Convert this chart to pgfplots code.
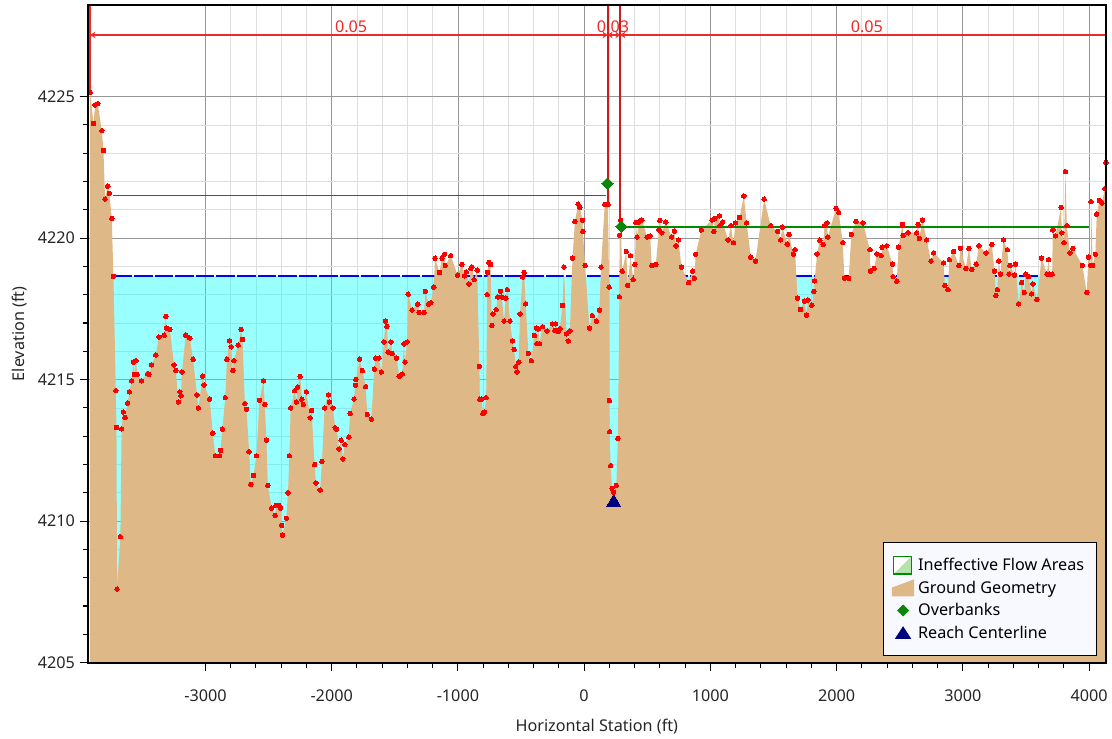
\documentclass[border=0pt]{standalone}
\usepackage{pgfplots}
\pgfplotsset{compat=1.18}
\usepackage{pgfplotstable}
\usepackage{fontspec}
\setmainfont{Noto Sans}
\usetikzlibrary{arrows.meta}
\definecolor{groundc}{RGB}{222,184,135}
\definecolor{waterc}{RGB}{0,255,255}
\definecolor{wlinec}{RGB}{0,0,255}
\definecolor{redc}{RGB}{240,40,40}
\definecolor{bankc}{RGB}{200,30,30}
\definecolor{ovgreen}{RGB}{10,135,10}
\definecolor{ineffc}{RGB}{0,140,0}
\definecolor{navyc}{RGB}{0,0,128}
\definecolor{legbg}{RGB}{248,249,255}
\definecolor{lightgreen}{RGB}{180,228,170}
\newcommand\chartfont{\fontsize{12.2}{14.5}\selectfont}

\pgfplotstableread{
x y
-3913 4225.15
-3887 4224.05
-3874 4224.71
-3853 4224.75
-3821 4223.80
-3808 4223.10
-3795 4221.38
-3774 4221.84
-3761 4221.58
-3742 4220.70
-3729 4218.65
-3710 4214.61
-3705 4213.31
-3700 4207.60
-3674 4209.45
-3664 4213.26
-3651 4213.86
-3637 4213.66
-3616 4214.17
-3603 4214.57
-3584 4214.96
-3571 4215.62
-3563 4215.18
-3550 4215.67
-3540 4215.18
-3506 4214.96
-3458 4215.21
-3448 4215.18
-3427 4215.52
-3393 4215.87
-3369 4216.51
-3327 4216.57
-3314 4217.23
-3308 4216.82
-3282 4216.77
-3248 4215.52
-3235 4215.32
-3214 4214.21
-3203 4214.57
-3194 4214.43
-3186 4215.27
-3156 4216.57
-3124 4216.47
-3098 4215.72
-3067 4214.46
-3056 4214.00
-3022 4215.12
-3011 4214.81
-2966 4214.31
-2942 4213.11
-2922 4212.31
-2888 4212.31
-2880 4212.50
-2866 4213.25
-2843 4214.36
-2830 4215.72
-2809 4216.37
-2796 4216.16
-2783 4215.32
-2775 4215.67
-2741 4216.22
-2717 4216.77
-2706 4216.42
-2688 4214.15
-2675 4213.95
-2654 4212.45
-2641 4211.30
-2619 4211.61
-2596 4212.31
-2572 4214.27
-2540 4214.96
-2530 4214.12
-2517 4212.86
-2506 4211.26
-2475 4210.46
-2448 4210.20
-2440 4210.55
-2419 4210.55
-2404 4210.46
-2396 4209.85
-2390 4209.50
-2359 4210.10
-2346 4211.00
-2335 4212.31
-2325 4214.00
-2293 4214.61
-2280 4214.21
-2269 4214.73
-2249 4215.11
-2236 4214.31
-2225 4214.12
-2201 4214.57
-2170 4213.65
-2159 4213.91
-2135 4212.00
-2125 4211.35
-2091 4211.10
-2077 4212.11
-2056 4214.00
-2025 4214.46
-2018 4214.21
-1991 4214.00
-1972 4213.30
-1962 4213.25
-1941 4212.55
-1925 4212.86
-1912 4212.20
-1896 4212.70
-1864 4212.97
-1854 4213.81
-1823 4214.31
-1812 4214.80
-1808 4215.01
-1778 4215.72
-1757 4215.32
-1731 4214.75
-1718 4213.77
-1686 4213.60
-1662 4215.37
-1651 4215.76
-1625 4215.76
-1607 4215.27
-1586 4216.33
-1573 4217.07
-1562 4216.88
-1552 4215.97
-1531 4216.33
-1520 4215.93
-1486 4215.76
-1465 4215.12
-1441 4215.20
-1428 4216.26
-1420 4215.62
-1402 4216.33
-1394 4218.02
-1363 4217.46
-1318 4217.67
-1307 4217.38
-1268 4217.38
-1258 4218.12
-1231 4217.67
-1215 4217.72
-1191 4218.27
-1181 4219.29
-1146 4218.79
-1126 4219.29
-1105 4219.43
-1100 4219.03
-1057 4219.38
-1002 4218.69
-968 4219.07
-947 4218.67
-933 4218.81
-913 4218.38
-897 4218.93
-889 4218.98
-871 4218.53
-847 4218.87
-830 4215.47
-826 4214.31
-812 4214.31
-802 4213.80
-789 4213.85
-776 4214.36
-768 4218.00
-765 4218.79
-755 4219.14
-742 4219.07
-731 4216.91
-723 4217.32
-697 4217.47
-684 4217.92
-663 4218.12
-653 4217.92
-634 4217.07
-621 4217.88
-608 4218.18
-587 4217.07
-568 4216.37
-555 4216.07
-542 4215.46
-531 4215.27
-518 4215.62
-508 4217.32
-487 4218.63
-476 4218.79
-463 4217.68
-442 4215.93
-418 4215.67
-394 4216.56
-379 4216.82
-373 4216.27
-363 4216.79
-353 4216.27
-329 4216.87
-294 4216.72
-252 4216.97
-231 4216.74
-226 4216.97
-205 4216.70
-192 4216.80
-171 4217.62
-160 4218.98
-140 4216.62
-126 4216.37
-113 4216.72
-92 4219.29
-73 4220.59
-47 4221.20
-34 4221.09
-13 4220.63
-10 4220.24
8 4219.03
42 4216.82
65 4217.26
97 4217.07
121 4217.46
134 4218.98
163 4221.19
189 4221.19
198 4218.27
200 4214.26
202 4213.16
210 4211.96
221 4211.16
233 4211.02
255 4211.26
268 4212.92
279 4217.93
281 4220.10
289 4220.64
302 4218.83
334 4219.53
345 4218.33
368 4219.38
389 4218.53
402 4219.07
410 4220.55
420 4220.04
430 4220.57
442 4220.61
458 4220.64
499 4220.04
523 4220.08
536 4219.03
568 4219.07
592 4220.29
600 4220.63
615 4220.19
647 4220.57
694 4220.04
715 4220.25
728 4219.73
747 4219.94
771 4218.98
828 4218.43
860 4218.83
873 4218.58
884 4219.43
929 4220.29
1015 4220.64
1028 4220.24
1036 4220.70
1073 4220.79
1075 4220.44
1097 4220.57
1141 4219.94
1162 4220.44
1183 4219.84
1199 4220.54
1231 4220.73
1265 4221.49
1288 4220.54
1320 4219.33
1357 4219.19
1426 4221.38
1478 4220.44
1533 4220.24
1557 4219.94
1570 4220.39
1609 4219.79
1623 4220.13
1657 4219.43
1670 4219.59
1691 4217.88
1714 4217.48
1746 4217.77
1762 4217.28
1773 4217.82
1804 4217.63
1820 4218.12
1825 4218.49
1846 4219.44
1867 4219.93
1894 4219.78
1904 4220.44
1925 4220.54
1930 4220.04
1996 4221.05
2017 4220.90
2049 4219.84
2062 4218.58
2096 4218.58
2117 4220.13
2154 4220.59
2209 4220.54
2264 4219.59
2268 4218.83
2298 4218.93
2320 4219.44
2354 4219.38
2360 4219.68
2398 4219.73
2443 4219.08
2448 4218.64
2477 4218.48
2491 4219.68
2522 4220.48
2528 4220.10
2567 4220.19
2635 4220.19
2646 4220.49
2656 4219.99
2680 4220.64
2714 4219.94
2748 4219.19
2769 4219.48
2848 4219.13
2858 4218.33
2882 4218.18
2893 4219.24
2927 4219.53
2969 4219.04
2982 4219.64
3024 4218.93
3048 4219.64
3071 4218.89
3106 4219.08
3127 4219.73
3185 4219.48
3230 4219.78
3251 4218.84
3262 4217.97
3274 4218.18
3285 4219.19
3298 4218.73
3322 4219.94
3353 4219.59
3366 4218.73
3374 4219.03
3410 4218.69
3418 4219.08
3442 4217.68
3466 4218.43
3487 4218.08
3498 4218.73
3521 4218.64
3545 4218.03
3556 4218.38
3587 4217.83
3624 4219.29
3666 4218.73
3679 4219.24
3687 4218.73
3708 4218.73
3713 4220.29
3734 4220.08
3779 4221.09
3784 4220.19
3802 4219.84
3813 4222.35
3824 4220.44
3848 4219.48
3871 4219.64
3947 4219.04
3982 4218.08
3995 4219.33
4013 4219.04
4016 4221.29
4029 4219.04
4050 4219.43
4061 4220.85
4082 4221.33
4103 4221.24
4124 4221.75
4134 4222.67
}\groundtab

\pgfplotstableread{
x y
-3729 4221.51
174 4221.51
nan nan
292 4220.39
4000 4220.39
}\ineffectivetab

\pgfplotstableread{
x y
184 4221.93
295 4220.41
}\overbanktab

\pgfplotstableread{
x y
234 4210.67
}\reachtab

\begin{document}
\begin{tikzpicture}
\begin{axis}[
  name=main,
  at={(0,0)}, anchor=south west,
  scale only axis, width=766.5pt, height=495pt,
  xmin=-3933, xmax=4134, ymin=4205, ymax=4228.24,
  xtick={-3000,-2000,-1000,0,1000,2000,3000,4000},
  xticklabels={-3000,-2000,-1000,0,1000,2000,3000,4000},
  ytick={4205,4210,4215,4220,4225},
  yticklabels={4205,4210,4215,4220,4225},
  minor x tick num=4, minor y tick num=4,
  grid=both,
  major grid style={draw={rgb,255:red,150;green,150;blue,150}, line width=0.6pt},
  minor grid style={draw={rgb,255:red,222;green,222;blue,222}, line width=0.6pt},
  tick align=outside, tick pos=left,
  major tick length=6pt, minor tick length=3.75pt,
  every tick/.style={black, line width=0.8pt},
  axis line style={black, line width=1.5pt},
  tick label style={font=\chartfont, text=black!85},
  xticklabel style={yshift=-11pt},
  label style={font=\chartfont, text=black!85},
  xlabel={Horizontal Station (ft)},
  ylabel={Elevation (ft)},
  xlabel style={at={(axis description cs:0.5,0)}, anchor=center, yshift=-48pt},
  ylabel style={at={(axis description cs:0,0.5)}, anchor=center, yshift=51.5pt},
  unbounded coords=jump,
  legend style={at={(rel axis cs:1,0)}, anchor=south east, xshift=-6.5pt, yshift=5pt,
    draw=black, fill=legbg, font=\chartfont, inner xsep=6.5pt, inner ysep=10pt,
    row sep=3.2pt, line width=0.7pt, nodes={inner xsep=3pt, inner ysep=1.5pt}},
  legend cell align=left,
]
% water (semi-transparent so the grid shows through)
\addplot[draw=none, fill=waterc, fill opacity=0.4, forget plot]
  coordinates {(-3729,4205) (-3729,4218.66) (3607,4218.66) (3607,4205)} -- cycle;
\addplot[draw=wlinec, line width=1.1pt, dash pattern=on 14pt off 1.5pt, forget plot]
  coordinates {(-3729,4218.66) (3607,4218.66)};
% ground
\addplot[fill=groundc, draw=none, forget plot] table[x=x,y=y] {\groundtab}
  -- (axis cs:4134,4205) -- (axis cs:-3913,4205) -- cycle;
% n-value annotations
\addplot[draw=redc, line width=1.2pt, forget plot] coordinates {(-3913,4228.24) (-3913,4225.15)};
\addplot[draw=redc, line width=1.6pt, forget plot] coordinates {(4134,4228.24) (4134,4222.67)};
\addplot[draw=bankc, line width=1pt, forget plot] coordinates {(188,4228.24) (188,4221.19)};
\addplot[draw=bankc, line width=1pt, forget plot] coordinates {(285,4228.24) (285,4220.41)};
\addplot[draw=redc, line width=1.5pt, {Stealth[length=4pt,width=5pt]}-{Stealth[length=4pt,width=5pt]}, forget plot]
  coordinates {(-3913,4227.18) (188,4227.18)};
\addplot[draw=redc, line width=1.5pt, {Stealth[length=3.5pt,width=5pt]}-{Stealth[length=3.5pt,width=5pt]}, forget plot]
  coordinates {(188,4227.18) (285,4227.18)};
\addplot[draw=redc, line width=1.5pt, {Stealth[length=4pt,width=5pt]}-, forget plot]
  coordinates {(285,4227.18) (4134,4227.18)};
\node[text=redc, font=\chartfont, anchor=south, inner sep=1.5pt] at (axis cs:-1846,4227.18) {0.05};
\node[text=redc, font=\chartfont, anchor=south, inner sep=1.5pt] at (axis cs:229,4227.18) {0.03};
\node[text=redc, font=\chartfont, anchor=south, inner sep=1.5pt] at (axis cs:2240,4227.18) {0.05};
% ground points
\addplot[red, only marks, mark=*, mark size=1.7pt, mark options={solid, fill=red, draw=red, line width=0pt}, forget plot]
  table[x=x,y=y] {\groundtab};
% ineffective flow areas
\addplot[draw=ineffc, line width=1.2pt, forget plot] table[x=x,y=y] {\ineffectivetab};
% overbanks and centerline
\addplot[ovgreen, only marks, mark=square*, mark size=3.1pt, mark options={fill=ovgreen, draw=ovgreen, line width=0pt, rotate=45}, forget plot]
  table[x=x,y=y] {\overbanktab};
\addplot[navyc, only marks, mark=triangle*, mark size=6pt, mark options={fill=navyc, draw=navyc, line width=0pt}, forget plot]
  table[x=x,y=y] {\reachtab};
% legend
\addlegendimage{legend image code/.code={
  \path (0pt,0pt) (16pt,0pt);
  \fill[lightgreen] (0.5pt,-6.5pt) rectangle (14pt,7pt);
  \fill[white] (0.5pt,-6.5pt) -- (0.5pt,7pt) -- (14pt,7pt) -- cycle;
  \draw[draw=ineffc, line width=0.8pt] (0.5pt,-6.5pt) rectangle (14pt,7pt);}}
\addlegendentry{Ineffective Flow Areas}
\addlegendimage{legend image code/.code={
  \fill[groundc] (0pt,-6pt) -- (16pt,-6pt) -- (16pt,6pt) -- (0pt,0pt) -- cycle;}}
\addlegendentry{Ground Geometry}
\addlegendimage{legend image code/.code={
  \path (0pt,0pt) (16pt,0pt);
  \fill[ovgreen] (8pt,-4pt) -- (12pt,0pt) -- (8pt,4pt) -- (4pt,0pt) -- cycle;}}
\addlegendentry{Overbanks}
\addlegendimage{legend image code/.code={
  \path (0pt,0pt) (16pt,0pt);
  \fill[navyc] (2.5pt,-4pt) -- (13.5pt,-4pt) -- (8pt,4.5pt) -- cycle;}}
\addlegendentry{Reach Centerline}
\end{axis}
\draw[black, line width=1.5pt] (main.south west) rectangle (main.north east);
\path (-66pt,-53.25pt) rectangle (768pt,498.75pt);
\end{tikzpicture}
\end{document}
